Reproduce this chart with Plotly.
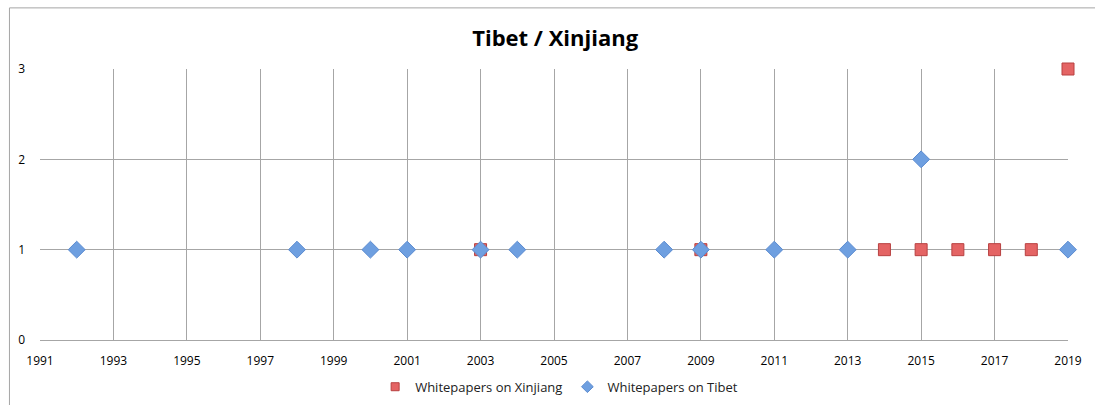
import plotly.graph_objects as go

xinjiang_years = [2003, 2009, 2014, 2015, 2016, 2017, 2018, 2019]
xinjiang_counts = [1, 1, 1, 1, 1, 1, 1, 3]
tibet_years = [1992, 1998, 2000, 2001, 2003, 2004, 2008, 2009, 2011, 2013, 2015, 2019]
tibet_counts = [1, 1, 1, 1, 1, 1, 1, 1, 1, 1, 2, 1]
x_ticks = list(range(1991, 2020, 2))
y_ticks = [0, 1, 2, 3]

font_family = "Open Sans, Noto Sans, sans-serif"
grid = "#a6a6a6"
red_fill, red_line = "#e46464", "#b84040"
blue_fill, blue_line = "#6e9fe0", "#5b8bd0"

fig = go.Figure()
fig.add_trace(go.Scatter(
    x=xinjiang_years, y=xinjiang_counts, mode="markers", name="Whitepapers on Xinjiang",
    marker=dict(symbol="square", size=12, color=red_fill, line=dict(color=red_line, width=1)),
    cliponaxis=False, showlegend=False,
))
fig.add_trace(go.Scatter(
    x=tibet_years, y=tibet_counts, mode="markers", name="Whitepapers on Tibet",
    marker=dict(symbol="diamond", size=13, color=blue_fill, line=dict(color=blue_line, width=1)),
    cliponaxis=False, showlegend=False,
))
# legend entries with small symbols
fig.add_trace(go.Scatter(
    x=[None], y=[None], mode="markers", name="Whitepapers on Xinjiang",
    marker=dict(symbol="square", size=8, color=red_fill, line=dict(color=red_line, width=1)),
))
fig.add_trace(go.Scatter(
    x=[None], y=[None], mode="markers", name="Whitepapers on Tibet",
    marker=dict(symbol="diamond", size=9, color=blue_fill, line=dict(color=blue_line, width=1)),
))

fig.update_layout(
    width=1095, height=405,
    margin=dict(l=40, r=27, t=69, b=65, autoexpand=False),
    paper_bgcolor="white", plot_bgcolor="white",
    title=dict(text="<b>Tibet / Xinjiang</b>", x=0.507, xanchor="center", y=0.905, yanchor="middle",
               font=dict(family=font_family, size=22, color="#000000")),
    font=dict(family=font_family, size=12, color="#000000"),
    showlegend=True,
    legend=dict(orientation="h", x=0.505, xanchor="center", yref="container", y=0.045, yanchor="middle",
                font=dict(size=13, color="#222222"), itemwidth=30, tracegroupgap=0),
    xaxis=dict(range=[1991, 2019], tickvals=x_ticks, ticktext=[str(v) for v in x_ticks],
               showgrid=True, gridcolor=grid, gridwidth=1, zeroline=False,
               showline=True, linecolor=grid, ticks="", ticklabelstandoff=10,
               tickfont=dict(size=12)),
    yaxis=dict(range=[0, 3], tickvals=y_ticks, showgrid=True, gridcolor=grid, gridwidth=1,
               zeroline=False, showline=False, ticks="", ticklabelstandoff=14,
               tickfont=dict(size=12)),
)

# outer chart frame (partially visible in the reference)
fig.add_shape(type="path", xref="paper", yref="paper",
              path="M -0.0297,-0.3 L -0.0297,1.2255 L 1.1,1.2255",
              line=dict(color="#a6a6a6", width=1))

fig.write_html("out.html")
